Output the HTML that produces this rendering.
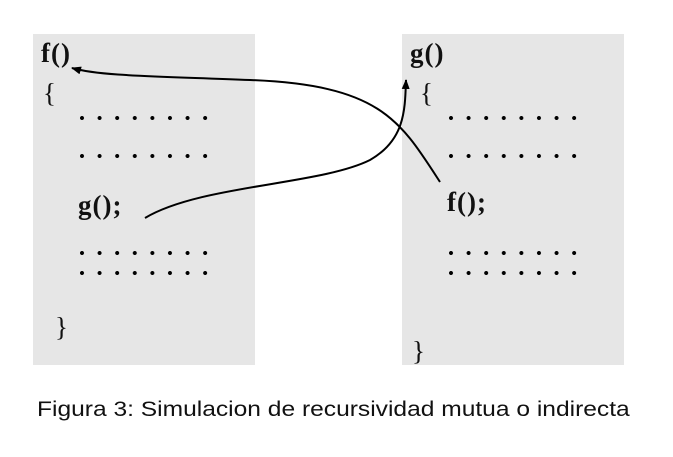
<!DOCTYPE html>
<html><head><style>
body{margin:0;width:673px;height:457px;background:#fff;position:relative;overflow:hidden}
.box{position:absolute;background:#e6e6e6;top:34px;height:331px;width:222px}
.t{position:absolute;font-family:"Liberation Serif",serif;color:#111;font-size:27px;line-height:1}
.b{font-weight:bold;letter-spacing:1px}
.r{position:absolute;height:4px;width:130px;background:radial-gradient(circle at 2px 2px,#000 1.8px,transparent 2.2px);background-size:17.6px 4px}
.cap{position:absolute;left:37px;top:398px;font-family:"Liberation Sans",sans-serif;font-size:21px;color:#111;transform:scaleX(1.17);transform-origin:0 0;white-space:nowrap}
</style></head><body>
<div class="box" style="left:33px"></div>
<div class="box" style="left:402px"></div>
<div class="t b" style="left:41px;top:40px">f()</div>
<div class="t" style="left:43px;top:80px">{</div>
<div class="r" style="left:80px;top:116px"></div>
<div class="r" style="left:80px;top:154px"></div>
<div class="t b" style="left:78px;top:192px">g();</div>
<div class="r" style="left:80px;top:251px"></div>
<div class="r" style="left:80px;top:271px"></div>
<div class="t" style="left:55px;top:314px">}</div>
<div class="t b" style="left:410px;top:40px">g()</div>
<div class="t" style="left:420px;top:80px">{</div>
<div class="r" style="left:449px;top:116px"></div>
<div class="r" style="left:449px;top:154px"></div>
<div class="t b" style="left:447px;top:189px">f();</div>
<div class="r" style="left:449px;top:251px"></div>
<div class="r" style="left:449px;top:271px"></div>
<div class="t" style="left:412px;top:338px">}</div>
<svg width="673" height="457" style="position:absolute;left:0;top:0">
<defs><marker id="a" markerWidth="10" markerHeight="8" refX="9" refY="4" orient="auto" markerUnits="userSpaceOnUse"><path d="M0,0 L10,4 L0,8 Z" fill="#000"/></marker></defs>
<path d="M145,218 C200,185 320,185 370,160 C405,140 405,110 406,80" fill="none" stroke="#000" stroke-width="2" marker-end="url(#a)"/>
<path d="M440,182 C400,120 380,85 250,80 C150,76 100,76 72,68" fill="none" stroke="#000" stroke-width="2" marker-end="url(#a)"/>
</svg>
<div class="cap">Figura 3: Simulacion de recursividad mutua o indirecta</div>
</body></html>
